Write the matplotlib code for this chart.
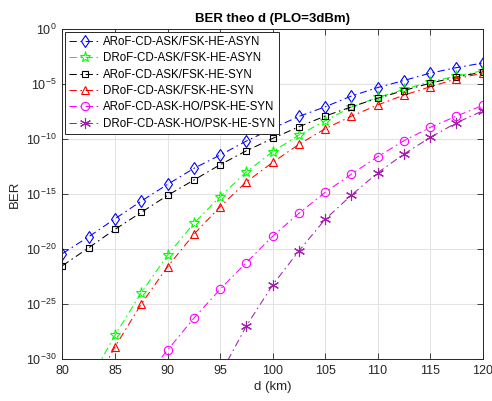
import numpy as np
import matplotlib
matplotlib.use('Agg')
import matplotlib.pyplot as plt
from matplotlib.ticker import FixedLocator, NullLocator

plt.rcParams['font.family'] = ['Liberation Sans', 'DejaVu Sans']
plt.rcParams['mathtext.default'] = 'regular'

# distance (km)
d = [80, 82.5, 85, 87.5, 90, 92.5, 95, 97.5, 100, 102.5, 105,
     107.5, 110, 112.5, 115, 117.5, 120]

# BER exponents (log10); nan = below the plotted range
nan = np.nan
ber_arof_asyn = [-20.4, -18.87, -17.24, -15.64, -14.12, -12.67, -11.46, -10.19, -9.04,
                 -7.95, -7.08, -6.1, -5.33, -4.69, -4.02, -3.52, -3.1]
ber_drof_asyn = [nan, -32.1, -27.8, -23.96, -20.54, -17.66, -15.24, -13.0, -11.16,
                 -9.65, -8.35, -7.1, -6.22, -5.5, -4.8, -4.29, -3.8]
ber_arof_syn = [-21.5, -19.87, -18.2, -16.66, -15.12, -13.73, -12.34, -11.07, -9.95,
                -8.89, -7.92, -7.08, -6.3, -5.6, -4.93, -4.38, -3.92]
ber_drof_syn = [nan, -33.3, -28.86, -24.98, -21.6, -18.66, -16.15, -13.9, -12.13,
                -10.49, -9.07, -7.93, -6.91, -6.02, -5.26, -4.53, -4.02]
ber_arof_ho = [nan, nan, nan, -32.1, -29.16, -26.28, -23.65, -21.22, -18.84,
               -16.75, -14.84, -13.19, -11.61, -10.16, -8.95, -7.92, -6.95]
ber_drof_ho = [nan, nan, nan, nan, nan, nan, -31.4, -26.98, -23.26,
               -20.17, -17.3, -15.1, -13.07, -11.37, -9.86, -8.53, -7.44]

labels = ['ARoF-CD-ASK/FSK-HE-ASYN', 'DRoF-CD-ASK/FSK-HE-ASYN',
          'ARoF-CD-ASK/FSK-HE-SYN', 'DRoF-CD-ASK/FSK-HE-SYN',
          'ARoF-CD-ASK-HO/PSK-HE-SYN', 'DRoF-CD-ASK-HO/PSK-HE-SYN']
series = [ber_arof_asyn, ber_drof_asyn, ber_arof_syn, ber_drof_syn, ber_arof_ho, ber_drof_ho]
colors = ['#0000ff', '#00ff00', '#000000', '#ff0000', '#ff00ff', '#a020a8']
markers = ['d', '*', 's', '^', 'o', (6, 2, 0)]
msizes = [6.5, 8, 4.5, 6, 6, 8]

fig = plt.figure(figsize=(4.92, 4.01), dpi=100)
ax = fig.add_axes([0.127, 0.104, 0.854, 0.824])

for y, lab, c, m, ms in zip(series, labels, colors, markers, msizes):
    yy = 10.0 ** np.array(y)
    ax.semilogy(d, yy, linestyle='-.', dashes=[7, 3.5, 1.5, 3.5], color=c,
                marker=m, markersize=ms, markerfacecolor='none',
                markeredgecolor=c, markeredgewidth=0.8, linewidth=0.75, label=lab)

ax.set_xlim(80, 120)
ax.set_ylim(1e-30, 1)
ax.xaxis.set_major_locator(FixedLocator(np.arange(80, 121, 5)))
ax.yaxis.set_major_locator(FixedLocator([10.0 ** e for e in range(-30, 1, 5)]))
ax.yaxis.set_minor_locator(NullLocator())
ax.grid(True, color='#e3e3e3', linewidth=0.8)
ax.set_axisbelow(True)

ax.tick_params(direction='in', top=True, right=True, length=4, width=0.6,
               labelsize=9, colors='#262626', pad=4)
for s in ax.spines.values():
    s.set_color('#262626')
    s.set_linewidth(0.7)

ax.set_xlabel('d (km)', fontsize=9.5, color='#262626', labelpad=3)
ax.set_ylabel('BER', fontsize=9.5, color='#262626')
ax.set_title('BER theo d (PLO=3dBm)', fontsize=9.5, fontweight='bold', pad=5)

leg = ax.legend(loc='upper left', fontsize=8.3, frameon=True, fancybox=False,
                edgecolor='#262626', framealpha=1, labelspacing=0.38,
                handlelength=2.7, handletextpad=0.2, borderaxespad=0.25,
                borderpad=0.35)
leg.get_frame().set_linewidth(0.7)

fig.savefig('out.png', dpi=100)
